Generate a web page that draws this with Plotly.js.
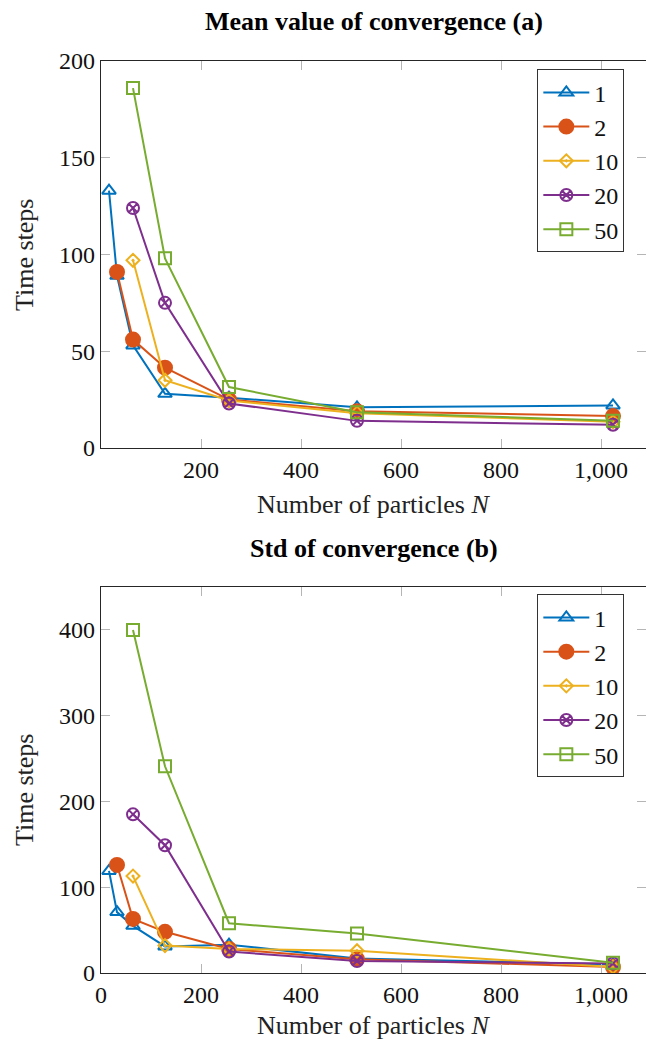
<!DOCTYPE html>
<html>
<head>
<meta charset="utf-8">
<script src="https://cdn.plot.ly/plotly-3.0.1.min.js"></script>
<style>html,body{margin:0;padding:0;background:#fff;}#chart{width:646px;height:1043px;}</style>
</head>
<body>
<div id="chart"></div>
<script>
// ---- data ----
const seriesNames = ["1", "2", "10", "20", "50"];
const x1 = [16, 32, 64, 128, 256, 512, 1024];
const x2 = [32, 64, 128, 256, 512, 1024];
const x3 = [64, 128, 256, 512, 1024];

const mean1 = [133, 89, 53, 28, 26, 21, 22];
const mean2 = [91, 56, 41.5, 25, 19, 16.5];
const mean10 = [97, 35, 24.5, 18, 13.5];
const mean20 = [124, 75, 23, 14, 12];
const mean50 = [186, 98, 31.5, 18.5, 14];

const std1 = [119, 71, 55, 31, 33, 17, 10];
const std2 = [126, 63, 48, 28, 16, 7];
const std10 = [113, 32, 28, 26, 7];
const std20 = [185, 149, 25, 14, 11];
const std50 = [400, 241, 58, 46, 12];

const topXTickVals = [200, 400, 600, 800, 1000];
const topXTickText = ["200", "400", "600", "800", "1,000"];
const botXTickVals = [0, 200, 400, 600, 800, 1000];
const botXTickText = ["0", "200", "400", "600", "800", "1,000"];
const topYTickVals = [0, 50, 100, 150, 200];
const botYTickVals = [0, 100, 200, 300, 400];

// ---- styles ----
const colors = ["#0072BD", "#D95319", "#EDB120", "#7E2F8E", "#77AC30"];
const symbols = ["triangle-up-open", "circle", "diamond-open-dot", "circle-x-open", "square-open"];
const sizes = [12, 14, 10, 12, 12];
const FONT = "Liberation Serif";

function mk(x, y, i, xa, ya, leg) {
  return {
    x: x, y: y, name: seriesNames[i], type: "scatter", mode: "lines+markers",
    xaxis: xa, yaxis: ya, legend: leg,
    line: {color: colors[i], width: 2},
    marker: {symbol: symbols[i], size: sizes[i], color: colors[i], line: {color: colors[i], width: 2}}
  };
}

const traces = [
  mk(x1, mean1, 0, "x", "y", "legend"),
  mk(x2, mean2, 1, "x", "y", "legend"),
  mk(x3, mean10, 2, "x", "y", "legend"),
  mk(x3, mean20, 3, "x", "y", "legend"),
  mk(x3, mean50, 4, "x", "y", "legend"),
  mk(x1, std1, 0, "x2", "y2", "legend2"),
  mk(x2, std2, 1, "x2", "y2", "legend2"),
  mk(x3, std10, 2, "x2", "y2", "legend2"),
  mk(x3, std20, 3, "x2", "y2", "legend2"),
  mk(x3, std50, 4, "x2", "y2", "legend2")
];

const axBase = {
  showgrid: false, zeroline: false, showline: true, linecolor: "#262626", linewidth: 1.3,
  mirror: "ticks", ticks: "inside", ticklen: 9, tickcolor: "#b5b5b5", tickwidth: 1,
  tickfont: {family: FONT, size: 24, color: "#111"}, tickmode: "array"
};

const legBase = {
  font: {family: FONT, size: 24, color: "#111"},
  bordercolor: "#333", borderwidth: 1, bgcolor: "#fff",
  xanchor: "left", yanchor: "top", itemwidth: 46, tracegroupgap: 0
};

const layout = {
  width: 646, height: 1043,
  margin: {l: 101, r: 0, t: 61, b: 70},
  paper_bgcolor: "#fff", plot_bgcolor: "#fff",
  font: {family: FONT, color: "#111"},
  xaxis: Object.assign({}, axBase, {domain: [0, 1], range: [0, 1090], tickvals: topXTickVals, ticktext: topXTickText, anchor: "y"}),
  yaxis: Object.assign({}, axBase, {domain: [0.5757, 1], range: [0, 200], tickvals: topYTickVals, anchor: "x"}),
  xaxis2: Object.assign({}, axBase, {domain: [0, 1], range: [0, 1090], tickvals: botXTickVals, ticktext: botXTickText, anchor: "y2"}),
  yaxis2: Object.assign({}, axBase, {domain: [0, 0.4232], range: [0, 450], tickvals: botYTickVals, anchor: "x2"}),
  legend: Object.assign({}, legBase, {x: 0.8006, y: 0.9909}),
  legend2: Object.assign({}, legBase, {x: 0.8006, y: 0.4152}),
  showlegend: true,
  annotations: [
    {text: "<b>Mean value of convergence (a)</b>", xref: "paper", yref: "paper", x: 0.5, y: 1.0428, showarrow: false, xanchor: "center", yanchor: "middle", font: {family: FONT, size: 26, color: "#000"}},
    {text: "<b>Std of convergence (b)</b>", xref: "paper", yref: "paper", x: 0.5, y: 0.466, showarrow: false, xanchor: "center", yanchor: "middle", font: {family: FONT, size: 26, color: "#000"}},
    {text: "Number of particles <i>N</i>", xref: "paper", yref: "paper", x: 0.5, y: 0.5132, showarrow: false, xanchor: "center", yanchor: "middle", font: {family: FONT, size: 26, color: "#222"}},
    {text: "Number of particles <i>N</i>", xref: "paper", yref: "paper", x: 0.5, y: -0.0581, showarrow: false, xanchor: "center", yanchor: "middle", font: {family: FONT, size: 26, color: "#222"}},
    {text: "Time steps", xref: "paper", yref: "paper", x: -0.1394, y: 0.7873, textangle: -90, showarrow: false, xanchor: "center", yanchor: "middle", font: {family: FONT, size: 26, color: "#222"}},
    {text: "Time steps", xref: "paper", yref: "paper", x: -0.1394, y: 0.2007, textangle: -90, showarrow: false, xanchor: "center", yanchor: "middle", font: {family: FONT, size: 26, color: "#222"}}
  ]
};

Plotly.newPlot("chart", traces, layout, {displayModeBar: false, staticPlot: true});
</script>
</body>
</html>
